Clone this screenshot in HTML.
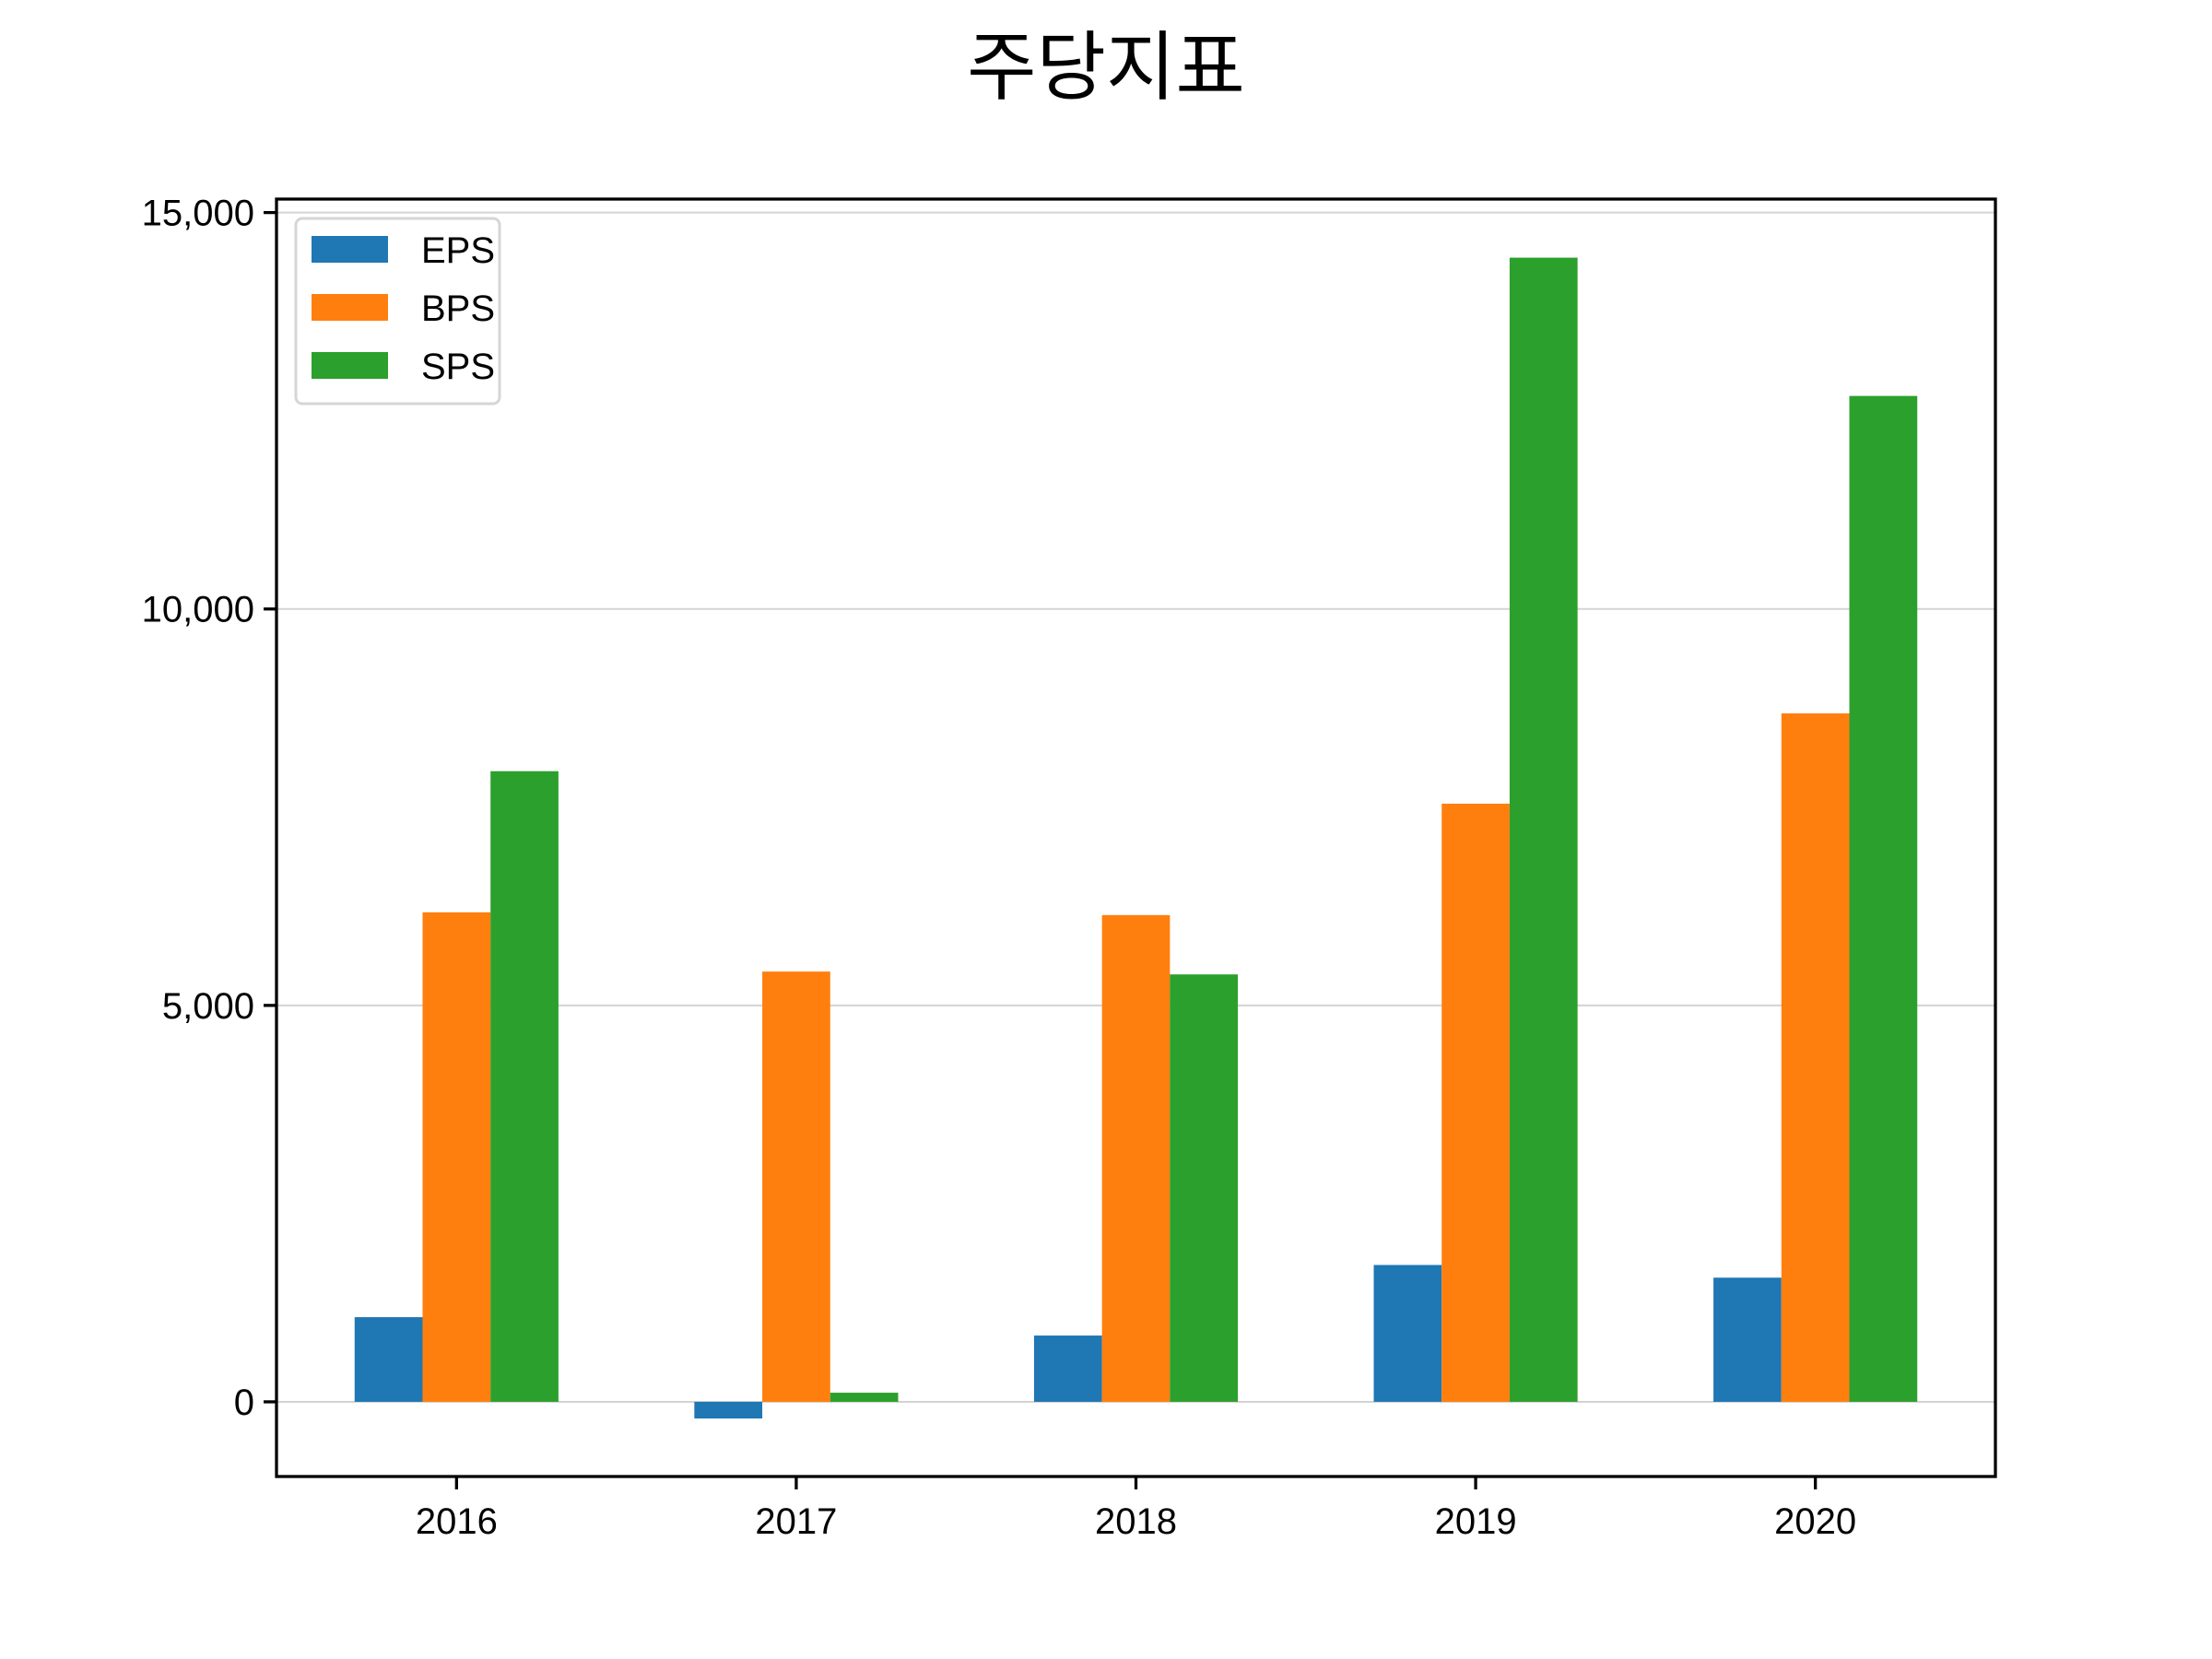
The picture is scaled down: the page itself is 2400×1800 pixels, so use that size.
<!DOCTYPE html>
<html><head><meta charset="utf-8"><style>
html,body{margin:0;padding:0;background:#fff;}
svg{display:block;font-family:"Liberation Sans","Noto Sans CJK KR",sans-serif;}
</style></head><body>
<svg id="chart" width="2400" height="1800" viewBox="0 0 2400 1800">
<text x="1200" y="101" font-size="82" text-anchor="middle" font-family="'Noto Sans CJK KR', sans-serif">주당지표</text>
<g id="grid"></g><g id="bars"></g><g id="axes"></g><g id="legend"></g>
</svg>
<script>
const categories = ["2016","2017","2018","2019","2020"];
const seriesNames = ["EPS","BPS","SPS"];
const eps = [1068, -210, 836, 1726, 1566];
const bps = [6174, 5427, 6139, 7544, 8683];
const sps = [7954, 115, 5391, 14431, 12687];
const yTicks = [0, 5000, 10000, 15000];
const yTickLabels = ["0","5,000","10,000","15,000"];
const colors = ["#1f77b4","#ff7f0e","#2ca02c"];
const series = [eps, bps, sps];

const NS = "http://www.w3.org/2000/svg";
const L = 300, R = 2165, T = 216, B = 1602;
const xMin = -0.53, xMax = 4.53, yMin = -942, yMax = 15170;
const xs = v => L + (v - xMin) / (xMax - xMin) * (R - L);
const ys = v => B - (v - yMin) / (yMax - yMin) * (B - T);
function mk(tag, attrs, parent){ const e=document.createElementNS(NS,tag); for(const k in attrs) e.setAttribute(k,attrs[k]); parent.appendChild(e); return e; }
const grid = document.getElementById('grid'), bars = document.getElementById('bars'), axes = document.getElementById('axes'), legend = document.getElementById('legend');

yTicks.forEach((t,i)=>{
  const g = mk('line',{x1:L,x2:R,y1:ys(t),y2:ys(t),stroke:'#d3d3d3','stroke-width':2},grid);
  
  
  const tk = mk('line',{x1:L-14,x2:L,y1:ys(t),y2:ys(t),stroke:'#000','stroke-width':3.3},axes);
  
  
  const tx = mk('text',{x:L-24,y:ys(t)+14,'font-size':40,'text-anchor':'end'},axes);
  tx.textContent = yTickLabels[i];
  
  
});

const w = 0.2;
series.forEach((s,si)=>{
  s.forEach((v,ci)=>{
    const x0 = xs(ci + (si-1)*w - w/2), x1 = xs(ci + (si-1)*w + w/2);
    const y0 = ys(Math.max(v,0)), y1 = ys(Math.min(v,0));
    const r = mk('rect',{x:x0,y:y0,width:x1-x0,height:y1-y0,fill:colors[si]},bars);
    
    
  });
});

categories.forEach((c,ci)=>{
  const tk = mk('line',{x1:xs(ci),x2:xs(ci),y1:B,y2:B+14,stroke:'#000','stroke-width':3.3},axes);
  
  
  const tx = mk('text',{x:xs(ci),y:1664,'font-size':40,'text-anchor':'middle'},axes);
  tx.textContent = c;
  
  
});

const frame = mk('rect',{x:L,y:T,width:R-L,height:B-T,fill:'none',stroke:'#000','stroke-width':3.3},axes);



const lb = mk('rect',{x:321,y:237,width:221,height:201,rx:7,fill:'#fff','fill-opacity':0.8,stroke:'#d6d6d6','stroke-width':3},legend);


seriesNames.forEach((n,i)=>{
  const py = 256 + i*63;
  const p = mk('rect',{x:338,y:py,width:83,height:29,fill:colors[i]},legend);
  
  
  const t = mk('text',{x:457,y:py+29,'font-size':40},legend);
  t.textContent = n;
  
  
});
</script>
</body></html>
